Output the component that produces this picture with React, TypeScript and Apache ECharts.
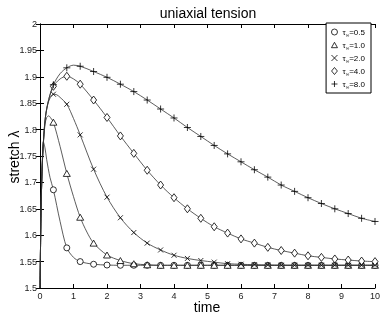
import React, { useEffect, useRef } from "react";
import * as echarts from "echarts";

const yMin = 1.5;
const yMax = 2;

const tauLabels = ["0.5", "1.0", "2.0", "4.0", "8.0"];

// [time, stretch]
const tau05: number[][] = [
  [0, 1.5], [0.03, 1.64], [0.06, 1.72], [0.1, 1.777], [0.15, 1.765], [0.2, 1.743],
  [0.3, 1.709], [0.4, 1.686], [0.6, 1.626], [0.8, 1.576], [1.0, 1.558], [1.2, 1.550],
  [1.6, 1.545], [2.0, 1.5435], [2.4, 1.543], [2.8, 1.543], [3.2, 1.543], [3.6, 1.543],
  [4.0, 1.543], [4.4, 1.543], [4.8, 1.543], [5.2, 1.543], [5.6, 1.543], [6.0, 1.543],
  [6.4, 1.543], [6.8, 1.543], [7.2, 1.543], [7.6, 1.543], [8.0, 1.543], [8.4, 1.543],
  [8.8, 1.543], [9.2, 1.543], [9.6, 1.543], [10.0, 1.543],
];
const tau10: number[][] = [
  [0, 1.5], [0.03, 1.64], [0.06, 1.72], [0.1, 1.772], [0.15, 1.81], [0.2, 1.823],
  [0.26, 1.826], [0.32, 1.822], [0.4, 1.814], [0.6, 1.768], [0.8, 1.717], [1.0, 1.673],
  [1.2, 1.634], [1.4, 1.606], [1.6, 1.585], [2.0, 1.5625], [2.4, 1.552], [2.8, 1.546],
  [3.2, 1.544], [3.6, 1.543], [4.0, 1.543], [4.4, 1.543], [4.8, 1.543], [5.2, 1.543],
  [5.6, 1.543], [6.0, 1.543], [6.4, 1.543], [6.8, 1.543], [7.2, 1.543], [7.6, 1.543],
  [8.0, 1.543], [8.4, 1.543], [8.8, 1.543], [9.2, 1.543], [9.6, 1.543], [10.0, 1.543],
];
const tau20: number[][] = [
  [0, 1.5], [0.03, 1.64], [0.06, 1.72], [0.1, 1.775], [0.16, 1.822], [0.22, 1.845],
  [0.3, 1.86], [0.4, 1.867], [0.5, 1.866], [0.6, 1.861], [0.8, 1.848], [1.0, 1.821],
  [1.2, 1.79], [1.6, 1.725], [2.0, 1.672], [2.4, 1.633], [2.8, 1.605], [3.2, 1.585],
  [3.6, 1.572], [4.0, 1.562], [4.4, 1.556], [4.8, 1.552], [5.2, 1.549], [5.6, 1.546],
  [6.0, 1.545], [6.4, 1.544], [6.8, 1.5435], [7.2, 1.543], [7.6, 1.543], [8.0, 1.543],
  [8.4, 1.543], [8.8, 1.543], [9.2, 1.543], [9.6, 1.543], [10.0, 1.543],
];
const tau40: number[][] = [
  [0, 1.5], [0.03, 1.64], [0.06, 1.72], [0.1, 1.775], [0.16, 1.823], [0.26, 1.857],
  [0.4, 1.882], [0.6, 1.896], [0.8, 1.901], [1.0, 1.896], [1.2, 1.886], [1.6, 1.856],
  [2.0, 1.823], [2.4, 1.788], [2.8, 1.755], [3.2, 1.723], [3.6, 1.695], [4.0, 1.671],
  [4.4, 1.65], [4.8, 1.632], [5.2, 1.616], [5.6, 1.604], [6.0, 1.593], [6.4, 1.585],
  [6.8, 1.577], [7.2, 1.571], [7.6, 1.566], [8.0, 1.561], [8.4, 1.558], [8.8, 1.555],
  [9.2, 1.553], [9.6, 1.551], [10.0, 1.55],
];
const tau80: number[][] = [
  [0, 1.5], [0.03, 1.64], [0.06, 1.72], [0.1, 1.775], [0.16, 1.823], [0.26, 1.857],
  [0.4, 1.885], [0.6, 1.906], [0.8, 1.917], [1.0, 1.922], [1.2, 1.92], [1.6, 1.91],
  [2.0, 1.899], [2.4, 1.886], [2.8, 1.872], [3.2, 1.856], [3.6, 1.839], [4.0, 1.822],
  [4.4, 1.804], [4.8, 1.787], [5.2, 1.77], [5.6, 1.754], [6.0, 1.739], [6.4, 1.724],
  [6.8, 1.71], [7.2, 1.695], [7.6, 1.683], [8.0, 1.671], [8.4, 1.66], [8.8, 1.65],
  [9.2, 1.641], [9.6, 1.632], [10.0, 1.626],
];

const seriesData = [tau05, tau10, tau20, tau40, tau80];

const CIRCLE = "path://M5,0A5,5 0 1,1 5,10A5,5 0 1,1 5,0Z";
const TRIANGLE = "path://M5,0L10,9L0,9Z";
const CROSS = "path://M0,0L10,10M10,0L0,10";
const DIAMOND = "path://M5,0L10,6L5,12L0,6Z";
const PLUS = "path://M5,0L5,10M0,5L10,5";
const symbols = [CIRCLE, TRIANGLE, CROSS, DIAMOND, PLUS];
const symbolSizes: any[] = [6, [7, 6], 5, [6, 8], 7];

const FONT = "'Liberation Sans', Arial, Helvetica, sans-serif";

function isMarker(t: number) {
  const k = t / 0.4;
  return t > 0 && Math.abs(k - Math.round(k)) < 1e-6;
}

export default function App() {
  const ref = useRef<HTMLDivElement>(null);
  useEffect(() => {
    if (!ref.current) return;
    const chart = echarts.init(ref.current, undefined, { renderer: "svg" });
    const axisLine = { show: true, lineStyle: { color: "#000", width: 1 } };
    const tickIn = { show: true, inside: true, length: 4, lineStyle: { color: "#000", width: 1 } };
    const series: any[] = seriesData.map((d, i) => ({
      type: "line",
      name: tauLabels[i],
      data: d,
      smooth: 0.3,
      showAllSymbol: true,
      symbol: (v: number[]) => (isMarker(v[0]) ? symbols[i] : "none"),
      symbolSize: symbolSizes[i],
      lineStyle: { color: "#333", width: 0.8 },
      itemStyle: { color: "#fff", borderColor: "#000", borderWidth: 0.8 },
      z: 2 + i,
    }));
    chart.setOption({
      animation: false,
      grid: { left: 40, right: 7, top: 24, bottom: 28, containLabel: false, outerBoundsMode: "none" },
      graphic: [
        {
          type: "text",
          x: 208,
          y: 13,
          style: {
            text: "uniaxial tension",
            fontSize: 14,
            fontFamily: FONT,
            fill: "#000",
            textAlign: "center",
            textVerticalAlign: "middle",
          },
        },
        {
          type: "text",
          x: 207,
          y: 307,
          style: {
            text: "time",
            fontSize: 14,
            fontFamily: FONT,
            fill: "#000",
            textAlign: "center",
            textVerticalAlign: "middle",
          },
        },
        {
          type: "text",
          x: 14,
          y: 157,
          rotation: Math.PI / 2,
          style: {
            text: "stretch λ",
            fontSize: 14,
            fontFamily: FONT,
            fill: "#000",
            textAlign: "center",
            textVerticalAlign: "middle",
          },
        },
      ],
      legend: {
        orient: "vertical",
        right: 11,
        top: 23,
        padding: [4, 6, 4, 5],
        itemGap: 3,
        itemWidth: 6,
        itemHeight: 7,
        backgroundColor: "#fff",
        borderColor: "#000",
        borderWidth: 1,
        data: tauLabels.map((n, i) => ({ name: n, icon: symbols[i] })),
        itemStyle: { color: "#fff", borderColor: "#000", borderWidth: 0.8 },
        formatter: (n: string) => `{a|τ}{b|∞}{a|=${n}}`,
        textStyle: {
          fontFamily: FONT,
          fontSize: 8,
          color: "#000",
          rich: {
            a: { fontSize: 8, fontFamily: FONT, color: "#000", lineHeight: 10 },
            b: { fontSize: 5, fontFamily: FONT, color: "#000", lineHeight: 10, padding: [5, 0, 0, 0] },
          },
        },
      },
      xAxis: [
        {
          type: "value",
          min: 0,
          max: 10,
          interval: 1,
          position: "bottom",
          axisLine,
          axisTick: tickIn,
          splitLine: { show: false },
          axisLabel: { fontSize: 9, fontFamily: FONT, color: "#222", margin: 3 },
        },
        {
          type: "value",
          min: 0,
          max: 10,
          interval: 1,
          position: "top",
          axisLine,
          axisTick: tickIn,
          splitLine: { show: false },
          axisLabel: { show: false },
        },
      ],
      yAxis: [
        {
          type: "value",
          min: yMin,
          max: yMax,
          interval: 0.05,
          position: "left",
          axisLine,
          axisTick: tickIn,
          splitLine: { show: false },
          axisLabel: { fontSize: 9, fontFamily: FONT, color: "#222", margin: 3 },
        },
        {
          type: "value",
          min: yMin,
          max: yMax,
          interval: 0.05,
          position: "right",
          axisLine,
          axisTick: tickIn,
          splitLine: { show: false },
          axisLabel: { show: false },
        },
      ],
      series,
    });
    return () => chart.dispose();
  }, []);
  return (
    <div
      ref={ref}
      style={{ position: "fixed", left: 0, top: 0, width: 382, height: 316 }}
    />
  );
}
